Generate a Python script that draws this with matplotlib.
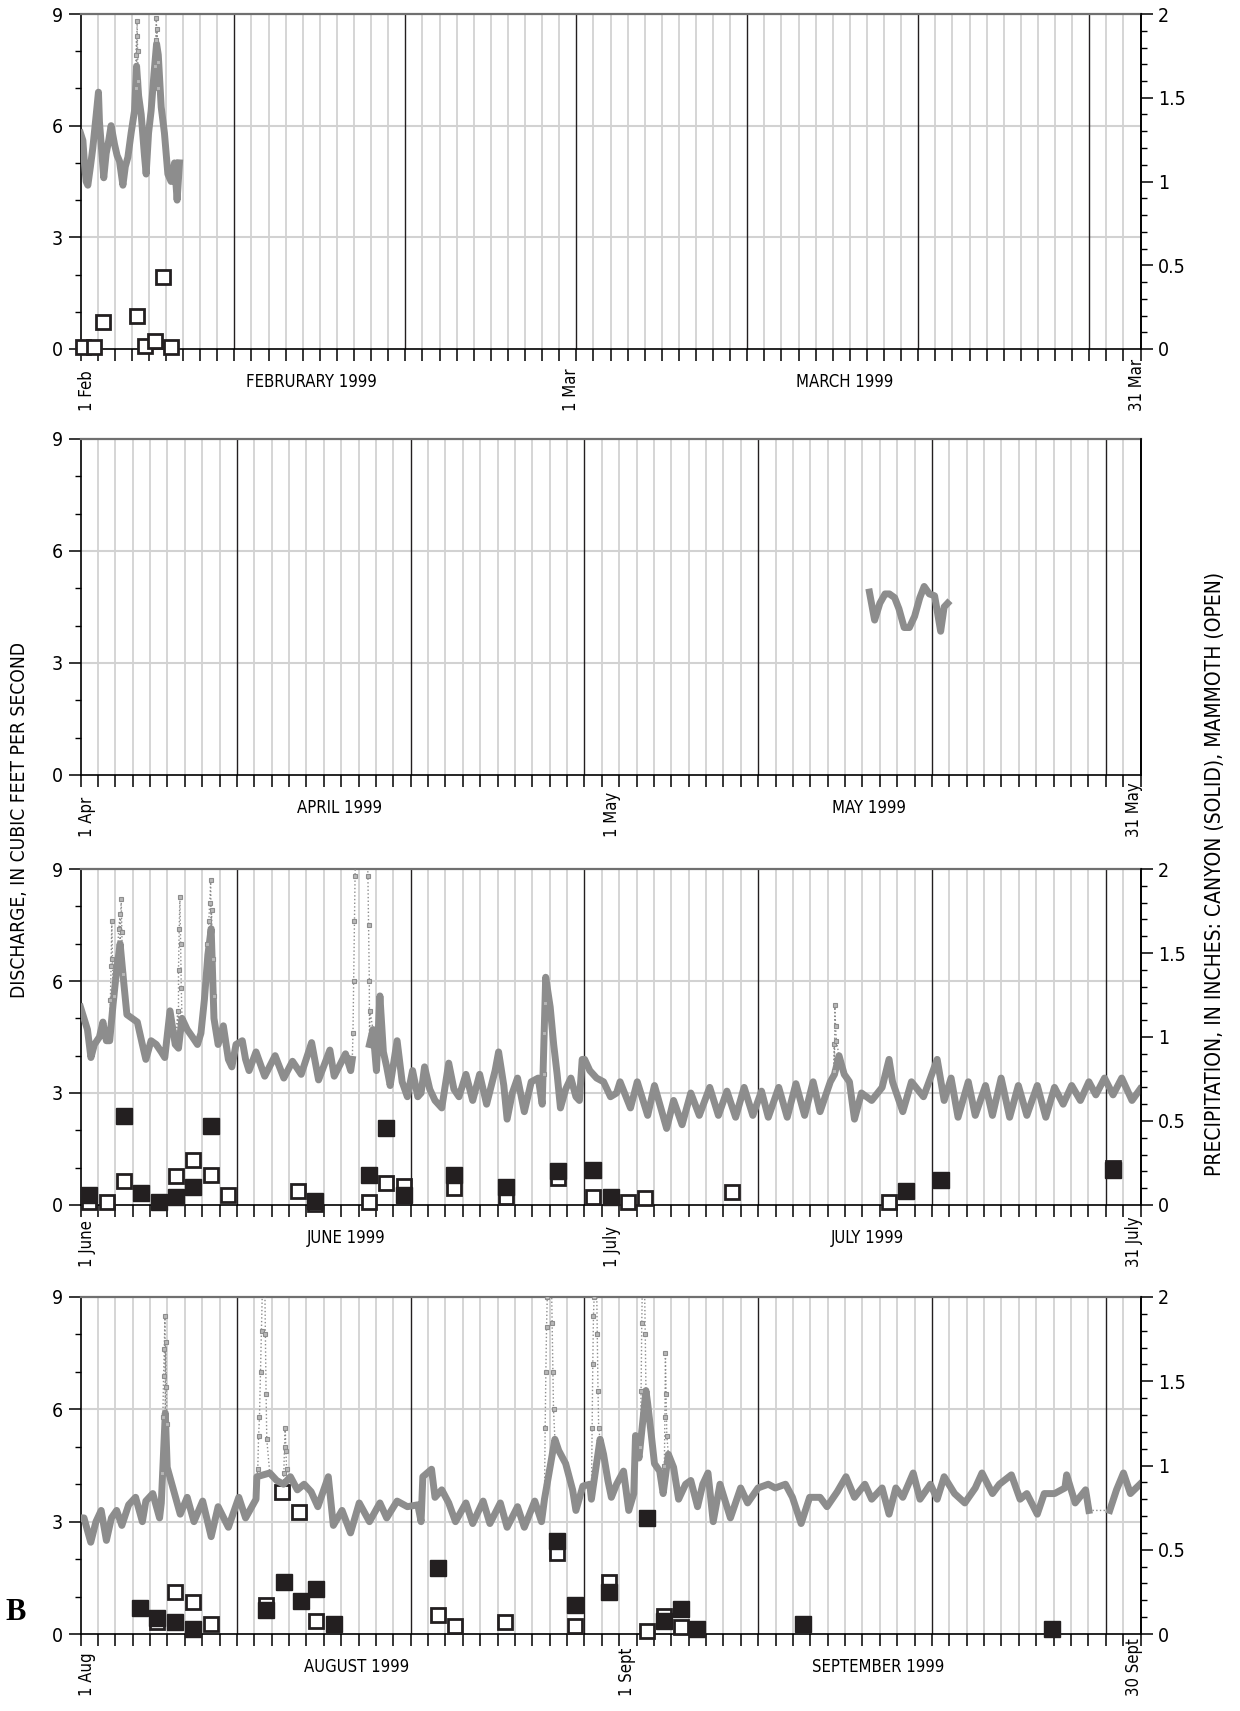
import numpy as np
import matplotlib.pyplot as plt

plt.rcParams['font.family'] = ['Liberation Sans Narrow', 'DejaVu Sans']
plt.rcParams['font.stretch'] = 'condensed'

GRAY = '#8d8d8d'
LIGHT = '#d2d2d2'
DARK = '#231f20'
IN_PER_CFS = 2 / 9   # right axis (inches) against left axis (cfs)

# ---- discharge, days from the 1st of the first month ----
feb_t = [0.0, 0.14, 0.23, 0.33, 0.43, 0.58, 0.72, 0.92, 1.05, 1.11, 1.21, 1.36, 1.5, 1.65, 1.79,
         1.99, 2.14, 2.28, 2.48, 2.62, 2.77, 2.96, 3.16, 3.28, 3.4, 3.55, 3.74, 3.84, 3.98, 4.13,
         4.3, 4.45, 4.55, 4.72, 4.91, 5.11, 5.3, 5.5, 5.65, 5.79]
feb_q = [5.8, 5.6, 5.0, 4.5, 4.4, 4.9, 5.4, 6.3, 6.9, 6.1, 5.5, 4.6, 5.25, 5.6, 6.0,
         5.5, 5.2, 5.05, 4.4, 4.9, 5.15, 5.8, 6.4, 7.6, 6.8, 6.3, 5.2, 4.7, 5.8, 6.4,
         7.4, 8.2, 7.9, 6.5, 5.8, 4.7, 4.5, 5.0, 4.0, 5.0]
feb_spike_t = [3.22, 3.25, 3.28, 3.31, 3.34, 3.37, 4.36, 4.4, 4.44, 4.48, 4.52, 4.56]
feb_spike_q = [7.0, 7.9, 8.4, 8.8, 8.0, 7.2, 7.6, 8.3, 8.9, 8.6, 7.7, 7.0]

apr_t = [45.4, 45.7, 46.0, 46.3, 46.55, 46.85, 47.1, 47.4, 47.7, 48.0, 48.3, 48.55, 48.85,
         49.15, 49.3, 49.5, 49.7, 49.9]
apr_q = [4.9, 4.15, 4.6, 4.85, 4.85, 4.75, 4.45, 3.95, 3.95, 4.25, 4.75, 5.05, 4.85,
         4.8, 4.4, 3.85, 4.5, 4.6]

jun_t = [0.0, 0.2, 0.4, 0.6, 0.8, 1.09, 1.29, 1.49, 1.68, 1.88, 2.08, 2.28, 2.48, 2.67, 2.97,
         3.27, 3.56, 3.76, 4.06, 4.36, 4.65, 4.85, 5.15, 5.45, 5.64, 5.84, 6.14, 6.44, 6.73,
         6.93, 7.13, 7.33, 7.52, 7.68, 7.92, 8.22, 8.51, 8.71, 8.95, 9.31, 9.5, 9.7, 10.1,
         10.6, 11.2, 11.7, 12.2, 12.7, 13.3, 13.7, 14.35, 14.6, 15.25, 15.55, 15.64, 16.1,
         16.63, 16.83, 17.03, 17.23, 17.43, 17.62, 17.82, 18.22, 18.51, 18.81, 19.11, 19.41,
         19.6, 19.8, 20.1, 20.4, 20.79, 21.19, 21.49, 21.78, 22.18, 22.57, 22.97, 23.37,
         23.86, 24.06, 24.36, 24.55, 24.85, 25.15, 25.54, 25.94, 26.34, 26.57, 26.77, 27.03,
         27.23, 27.43, 27.62, 27.92, 28.22, 28.51, 28.71, 28.87, 29.01, 29.31, 29.7, 30.1,
         30.5, 30.85, 31.05, 31.65, 32.04, 32.64, 33.03, 33.73, 34.13, 34.62, 35.12, 35.61,
         36.21, 36.71, 37.2, 37.7, 38.19, 38.69, 39.19, 39.58, 40.18, 40.67, 41.17, 41.67,
         42.16, 42.56, 43.15, 43.39, 43.65, 43.95, 44.25, 44.54, 44.94, 45.53, 46.13, 46.53,
         46.73, 47.32, 47.82, 48.51, 48.91, 49.3, 49.7, 50.1, 50.5, 51.09, 51.49, 52.08,
         52.48, 52.98, 53.47, 53.97, 54.46, 55.06, 55.55, 56.05, 56.55, 57.04, 57.54, 58.03,
         58.43, 58.93, 59.42, 59.92, 60.51, 60.97]
jun_q = [5.3, 5.0, 4.7, 3.95, 4.3, 4.5, 4.9, 4.4, 4.4, 5.4, 6.3, 7.0, 6.0, 5.1, 5.0,
         4.9, 4.3, 3.9, 4.4, 4.3, 4.1, 3.95, 5.2, 4.3, 4.2, 5.0, 4.7, 4.5, 4.3,
         4.6, 5.5, 6.7, 7.4, 5.0, 4.3, 4.8, 3.9, 3.7, 4.3, 4.4, 3.9, 3.6, 4.1,
         3.45, 4.0, 3.4, 3.85, 3.5, 4.35, 3.35, 4.15, 3.45, 4.05, 3.6, 3.9, np.nan,
         4.3, 4.7, 3.6, 5.6, 4.1, 3.7, 3.2, 4.4, 3.3, 2.9, 3.6, 2.9,
         3.0, 3.7, 3.1, 2.8, 2.6, 3.8, 3.1, 2.9, 3.5, 2.8, 3.5, 2.7,
         3.6, 4.1, 3.2, 2.3, 3.0, 3.4, 2.5, 3.3, 3.4, 2.7, 6.1, 5.3,
         4.3, 3.5, 2.6, 3.1, 3.4, 2.9, 2.8, 3.9, 3.9, 3.6, 3.4, 3.3,
         2.9, 3.0, 3.3, 2.6, 3.3, 2.4, 3.2, 2.05, 2.8, 2.15, 3.0, 2.4,
         3.15, 2.4, 3.05, 2.35, 3.15, 2.4, 3.05, 2.35, 3.15, 2.35, 3.25, 2.4,
         3.3, 2.5, 3.3, 3.5, 4.0, 3.5, 3.3, 2.3, 3.0, 2.8, 3.15, 3.9,
         3.3, 2.5, 3.3, 2.9, 3.4, 3.9, 2.8, 3.4, 2.35, 3.3, 2.4, 3.2,
         2.4, 3.4, 2.35, 3.2, 2.4, 3.2, 2.35, 3.15, 2.7, 3.2, 2.8, 3.3,
         2.95, 3.4, 2.95, 3.4, 2.8, 3.1]
jun_spike_t = [1.72, 1.76, 1.8, 1.84, 1.9, 2.2, 2.28, 2.34, 2.38, 2.42,
               5.6, 5.64, 5.68, 5.72, 5.76, 5.8,
               7.3, 7.38, 7.44, 7.49, 7.54, 7.6, 7.66,
               15.68, 15.72, 15.76, 15.8, 15.84, 16.5, 16.54, 16.58, 16.62, 16.66,
               26.66, 26.7, 26.73, 43.35, 43.38, 43.41, 43.45, 43.5]
jun_spike_q = [5.5, 6.4, 7.6, 6.6, 5.6, 7.4, 7.8, 8.2, 7.3, 6.2,
               5.2, 6.3, 7.4, 8.25, 7.0, 5.8,
               7.0, 7.6, 8.1, 8.7, 7.9, 6.6, 5.6,
               4.6, 6.0, 7.6, 8.8, 9.8, 9.6, 8.8, 7.5, 6.0, 5.2,
               3.5, 4.6, 5.4, 3.6, 4.3, 5.35, 4.8, 4.4]

aug_t = [0.0, 0.2, 0.59, 0.89, 1.19, 1.49, 1.78, 2.08, 2.38, 2.77, 3.17, 3.56, 3.76, 4.16,
         4.55, 4.65, 4.88, 4.99, 5.35, 5.74, 6.14, 6.53, 7.03, 7.52, 7.92, 8.51, 9.11, 9.5,
         10.1, 10.15, 10.89, 11.29, 11.68, 12.08, 12.48, 12.87, 13.27, 13.66, 14.26, 14.55,
         15.05, 15.54, 16.04, 16.63, 17.23, 17.62, 18.22, 18.81, 19.41, 19.6, 19.7, 20.2,
         20.4, 20.79, 21.19, 21.58, 22.18, 22.57, 23.17, 23.56, 24.16, 24.55, 25.15, 25.54,
         26.14, 26.53, 26.7, 27.3, 27.52, 27.92, 28.32, 28.51, 28.91, 29.31, 29.4, 29.9,
         30.1, 30.35, 30.55, 30.85, 31.25, 31.55, 31.84, 31.94, 32.14, 32.54, 32.64, 32.84,
         33.03, 33.33, 33.53, 33.83, 34.13, 34.42, 34.82, 35.12, 35.51, 35.81, 36.11, 36.41,
         36.8, 37.4, 37.99, 38.39, 38.99, 39.58, 39.98, 40.57, 40.97, 41.47, 41.96, 42.56,
         42.96, 43.55, 44.05, 44.54, 45.14, 45.53, 46.13, 46.53, 46.92, 47.32, 47.92, 48.31,
         48.91, 49.3, 49.7, 50.3, 50.89, 51.49, 51.88, 52.48, 52.88, 53.57, 54.07, 54.46,
         55.06, 55.46, 56.05, 56.65, 56.75, 57.24, 57.84, 58.03, 58.6, 59.23, 59.62, 60.02,
         60.42, 60.97]
aug_q = [3.1, 3.1, 2.45, 3.0, 3.3, 2.5, 3.1, 3.3, 2.9, 3.45, 3.65, 3.0, 3.55, 3.75,
         3.1, 3.5, 5.9, 4.45, 3.85, 3.2, 3.65, 3.0, 3.55, 2.6, 3.4, 2.85, 3.65, 3.1,
         3.6, 4.2, 4.3, 4.1, 4.0, 4.2, 3.85, 4.0, 3.8, 3.4, 4.2, 2.9,
         3.3, 2.7, 3.5, 3.0, 3.5, 3.1, 3.55, 3.4, 3.45, 3.0, 4.2, 4.4,
         3.65, 3.85, 3.5, 3.0, 3.5, 2.95, 3.55, 2.95, 3.5, 2.85, 3.4, 2.85,
         3.55, 3.0, 3.6, 5.2, 4.9, 4.55, 3.85, 3.3, 3.95, 4.0, 3.6, 5.2,
         4.8, 4.1, 3.65, 4.0, 4.35, 3.3, 3.75, 5.3, 4.7, 6.5, 6.15, 5.35,
         4.55, 4.35, 3.75, 4.8, 4.45, 3.6, 4.0, 4.1, 3.4, 4.0, 4.3, 3.0,
         4.0, 3.1, 3.9, 3.5, 3.9, 4.0, 3.9, 4.0, 3.65, 2.95, 3.65, 3.65,
         3.4, 3.8, 4.2, 3.65, 4.0, 3.6, 3.9, 3.2, 3.9, 3.65, 4.3, 3.6,
         4.0, 3.6, 4.2, 3.75, 3.5, 3.9, 4.3, 3.75, 4.0, 4.25, 3.6, 3.75,
         3.2, 3.75, 3.75, 3.9, 4.25, 3.5, 3.85, 3.3, np.nan, 3.3, 3.85, 4.3,
         3.75, 4.0]
aug_spike_t = [4.7, 4.74, 4.78, 4.82, 4.86, 4.9, 4.94, 4.98,
               10.2, 10.25, 10.3, 10.36, 10.42, 10.48, 10.6, 10.64, 10.68, 10.72,
               11.7, 11.74, 11.78, 11.82, 11.86,
               26.74, 26.78, 26.82, 26.86, 26.9, 27.1, 27.14, 27.18, 27.22,
               29.44, 29.48, 29.52, 29.56, 29.6, 29.7, 29.74, 29.78, 29.82,
               32.22, 32.26, 32.3, 32.34, 32.45, 32.5,
               33.6, 33.63, 33.66, 33.7, 33.74]
aug_spike_q = [4.3, 5.8, 6.9, 7.6, 8.5, 7.8, 6.6, 5.6,
               4.4, 5.3, 5.8, 7.0, 8.1, 9.5, 9.6, 8.0, 6.4, 5.2,
               4.3, 5.0, 5.5, 4.9, 4.4,
               5.5, 7.0, 8.2, 9.0, 9.6, 9.5, 8.3, 7.0, 6.0,
               5.5, 7.2, 8.5, 9.0, 9.6, 9.4, 8.0, 6.5, 5.5,
               5.0, 6.5, 8.3, 9.6, 9.6, 8.0,
               4.5, 5.8, 7.5, 6.4, 5.3]

# ---- precipitation, inches: Canyon (solid), Mammoth (open) ----
feb_open_t = [0.14, 0.78, 1.3, 3.3, 3.8, 4.33, 4.8, 5.3]
feb_open_p = [0.01, 0.01, 0.16, 0.2, 0.016, 0.05, 0.43, 0.014]

jun_solid_t = [0.5, 2.5, 3.5, 4.5, 5.5, 6.5, 7.5, 13.5, 16.6, 17.6, 18.6, 21.5, 24.5, 27.5,
               29.5, 30.5, 47.5, 49.5, 59.4]
jun_solid_p = [0.06, 0.53, 0.07, 0.016, 0.05, 0.11, 0.47, 0.024, 0.18, 0.46, 0.06, 0.18,
               0.11, 0.2, 0.21, 0.05, 0.086, 0.15, 0.21]
jun_open_t = [0.5, 1.5, 2.5, 5.5, 6.5, 7.5, 8.5, 12.5, 13.5, 16.6, 17.6, 18.6, 21.5, 24.5,
              27.5, 29.5, 31.5, 32.5, 37.5, 46.5, 59.4]
jun_open_p = [0.02, 0.016, 0.14, 0.17, 0.27, 0.18, 0.06, 0.084, 0.005, 0.016, 0.13, 0.115,
              0.1, 0.05, 0.16, 0.05, 0.016, 0.044, 0.08, 0.02, 0.22]

aug_solid_t = [3.4, 4.4, 5.45, 6.5, 10.7, 11.7, 12.7, 13.55, 14.6, 20.55, 27.4, 28.45, 30.4,
               32.6, 33.55, 34.55, 35.5, 41.55, 55.9]
aug_solid_p = [0.155, 0.095, 0.07, 0.03, 0.14, 0.31, 0.195, 0.27, 0.06, 0.39, 0.55, 0.17,
               0.25, 0.69, 0.075, 0.15, 0.03, 0.06, 0.03]
aug_open_t = [4.4, 5.45, 6.5, 7.5, 10.7, 11.6, 12.6, 13.55, 20.55, 21.55, 24.45, 27.4, 28.45,
              30.4, 32.6, 33.55, 34.55]
aug_open_p = [0.07, 0.25, 0.19, 0.06, 0.175, 0.84, 0.725, 0.08, 0.11, 0.05, 0.07, 0.48, 0.05,
              0.31, 0.02, 0.105, 0.04]

# axis text
feb_dates = [(0.37, '1 Feb'), (28.7, '1 Mar'), (61.8, '31 Mar')]
feb_months = [(13.5, 'FEBRURARY 1999'), (44.7, 'MARCH 1999')]
apr_dates = [(0.37, '1 Apr'), (30.6, '1 May'), (60.6, '31 May')]
apr_months = [(14.9, 'APRIL 1999'), (45.4, 'MAY 1999')]
jun_dates = [(0.37, '1 June'), (30.6, '1 July'), (60.6, '31 July')]
jun_months = [(15.3, 'JUNE 1999'), (45.3, 'JULY 1999')]
aug_dates = [(0.37, '1 Aug'), (31.45, '1 Sept'), (60.6, '30 Sept')]
aug_months = [(15.9, 'AUGUST 1999'), (45.9, 'SEPTEMBER 1999')]


def draw_panel(ax, span, t, q, st, sq, solid, opened, dates, months, right=True):
    ax.set_xlim(0, span)
    ax.set_ylim(0, 9)
    days = np.arange(1, int(span) + 1)
    dark = [d for d in days if d % 10 == 9]
    ax.vlines([d for d in days if d not in dark], 0, 9, color=LIGHT, lw=1.3, zorder=0.5)
    ax.vlines(dark, 0, 9, color=DARK, lw=1.0, zorder=0.6)
    ax.hlines([3, 6], 0, span, color=LIGHT, lw=1.5, zorder=0.5)

    # precipitation (open below trace, solid above)
    if opened:
        ax.plot(opened[0], np.array(opened[1]) / IN_PER_CFS, 's', ms=10.5, mfc='white',
                mec=DARK, mew=2.0, zorder=3, clip_on=False)

    # discharge trace: thin dotted through all samples, thick band on the base record
    t_all = np.array(list(t) + list(st))
    q_all = np.array(list(q) + list(sq))
    ok = ~np.isnan(q_all)
    order = np.argsort(t_all[ok])
    ax.plot(t_all[ok][order], q_all[ok][order], ':', color=GRAY, lw=1.0, zorder=4)
    ax.plot(t, q, '-', color=GRAY, lw=5, zorder=4)
    if st:
        ax.plot(st, sq, 's', ms=3.2, mfc='#b8b8b8', mec=GRAY, mew=0.8, zorder=4)

    if solid:
        ax.plot(solid[0], np.array(solid[1]) / IN_PER_CFS, 's', ms=11.5, mfc=DARK,
                mec=DARK, mew=1.0, zorder=5, clip_on=False)

    for s in ['left', 'right', 'bottom']:
        ax.spines[s].set_color('black')
        ax.spines[s].set_linewidth(1.2)
    ax.spines['top'].set_color('#707070')
    ax.spines['top'].set_linewidth(1.6)

    ax.set_xticks(np.arange(0, int(span) + 1))
    ax.tick_params(axis='x', direction='out', length=8.6, width=1.1, labelbottom=False)
    ax.set_yticks([0, 3, 6, 9])
    ax.set_yticks(np.arange(0, 10), minor=True)
    ax.tick_params(axis='y', which='major', length=8.6, width=1.1, labelsize=14, pad=4)
    ax.tick_params(axis='y', which='minor', length=4, width=1.0)

    ax2 = ax.twinx()
    ax2.set_ylim(0, 2)
    for s in ['left', 'top', 'bottom']:
        ax2.spines[s].set_visible(False)
    ax2.spines['right'].set_linewidth(1.2)
    if right:
        ax2.set_yticks([0, 0.5, 1, 1.5, 2])
        ax2.set_yticklabels(['0', '0.5', '1', '1.5', '2'])
        ax2.set_yticks(np.arange(0, 2.01, 0.1), minor=True)
        ax2.tick_params(axis='y', which='major', length=8.6, width=1.1, labelsize=14, pad=4)
        ax2.tick_params(axis='y', which='minor', length=4, width=1.0)
    else:
        ax2.set_yticks([])

    for x, s in dates:
        ax.annotate(s, xy=(x, 0), xycoords=('data', 'axes fraction'), xytext=(0, -62),
                    textcoords='offset pixels', rotation=90, ha='center', va='bottom',
                    fontsize=12)
    for x, s in months:
        ax.annotate(s, xy=(x, 0), xycoords=('data', 'axes fraction'), xytext=(0, -33),
                    textcoords='offset pixels', ha='center', va='center', fontsize=12)


W, H = 1240, 1711
fig = plt.figure(figsize=(12.4, 17.11), dpi=100)


def px_axes(top, bottom):
    return fig.add_axes([80.5 / W, 1 - bottom / H, (1140.5 - 80.5) / W, (bottom - top) / H])


ax1 = px_axes(14, 349)
draw_panel(ax1, 62, feb_t, feb_q, feb_spike_t, feb_spike_q, None, (feb_open_t, feb_open_p),
           feb_dates, feb_months)
ax2 = px_axes(439, 775)
draw_panel(ax2, 61, apr_t, apr_q, [], [], None, None, apr_dates, apr_months, right=False)
ax3 = px_axes(869, 1205)
draw_panel(ax3, 61, jun_t, jun_q, jun_spike_t, jun_spike_q, (jun_solid_t, jun_solid_p),
           (jun_open_t, jun_open_p), jun_dates, jun_months)
ax4 = px_axes(1297, 1634)
draw_panel(ax4, 61, aug_t, aug_q, aug_spike_t, aug_spike_q, (aug_solid_t, aug_solid_p),
           (aug_open_t, aug_open_p), aug_dates, aug_months)

fig.text(19.6 / W, 1 - 820 / H, 'DISCHARGE, IN CUBIC FEET PER SECOND', rotation=90,
         ha='center', va='center', fontsize=13.8)
fig.text(1215 / W, 1 - 874 / H, 'PRECIPITATION, IN INCHES: CANYON (SOLID), MAMMOTH (OPEN)',
         rotation=90, ha='center', va='center', fontsize=15)
fig.text(16 / W, 1 - 1613 / H, 'B', family=['Liberation Serif', 'DejaVu Serif'],
         fontweight='bold', fontsize=22, ha='center', va='center')

fig.savefig('out.png', dpi=100)
